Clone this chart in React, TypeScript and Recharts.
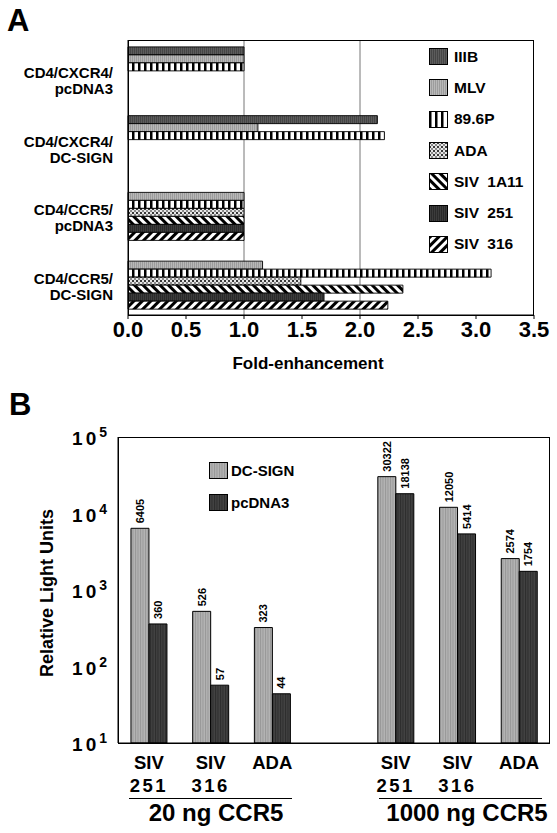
import React from "react";
import {
  BarChart,
  Bar,
  XAxis,
  YAxis,
  CartesianGrid,
  Legend,
  LabelList,
} from "recharts";

// ---- panel A data ----
const cellLines = [
  "CD4/CXCR4/\npcDNA3",
  "CD4/CXCR4/\nDC-SIGN",
  "CD4/CCR5/\npcDNA3",
  "CD4/CCR5/\nDC-SIGN",
];
const iiib = [1.0, 2.15, null, null];
const mlv = [1.0, 1.12, 1.0, 1.16];
const hiv896p = [1.0, 2.21, 1.0, 3.13];
const ada = [null, null, 1.0, 1.49];
const siv1a11 = [null, null, 1.0, 2.37];
const siv251 = [null, null, 1.0, 1.69];
const siv316 = [null, null, 1.0, 2.24];
const foldTicks = [0, 0.5, 1, 1.5, 2, 2.5, 3, 3.5];
const foldGrid = [1, 2];

// ---- panel B data ----
const viruses = ["SIV 251", "SIV 316", "ADA", "", "SIV 251", "SIV 316", "ADA"];
const dcSign = [6405, 526, 323, null, 30322, 12050, 2574];
const pcDNA3 = [360, 57, 44, null, 18138, 5414, 1754];
const rluTicks = [10, 100, 1000, 10000, 100000];
const doseLabels = ["20 ng CCR5", "1000 ng CCR5"];

const FONT = "'Liberation Sans', Arial, Helvetica, sans-serif";
const W = 557;

// chart geometry
const A_TOP = 0;
const A_H = 375;
const A_MARGIN = { top: 40, right: 23, bottom: 0, left: 0 };
const A_YW = 128;
const A_XH = 60;
const B_TOP = 380;
const B_H = 453;
const B_MARGIN = { top: 57, right: 7, bottom: 0, left: 0 };
const B_YW = 118;
const B_XH = 90;

const seriesA = [
  { key: "iiib", name: "IIIB", fill: "url(#pIIIB)" },
  { key: "mlv", name: "MLV", fill: "url(#pMLV)" },
  { key: "p896", name: "89.6P", fill: "url(#p896)" },
  { key: "ada", name: "ADA", fill: "url(#pADA)" },
  { key: "s1a11", name: "SIV 1A11", fill: "url(#p1A11)" },
  { key: "s251", name: "SIV 251", fill: "url(#p251)" },
  { key: "s316", name: "SIV 316", fill: "url(#p316)" },
];

const dataA = cellLines.map((name, i) => ({
  name,
  iiib: iiib[i],
  mlv: mlv[i],
  p896: hiv896p[i],
  ada: ada[i],
  s1a11: siv1a11[i],
  s251: siv251[i],
  s316: siv316[i],
}));

const seriesB = [
  { key: "dc", name: "DC-SIGN", fill: "url(#pDC)" },
  { key: "pc", name: "pcDNA3", fill: "url(#pPC)" },
];

const dataB = viruses.map((v, i) => ({ v, dc: dcSign[i], pc: pcDNA3[i] }));

function Patterns() {
  return (
    <defs>
      <pattern id="pIIIB" width="2" height="10" patternUnits="userSpaceOnUse">
        <rect width="2" height="10" fill="#5c5c5c" />
        <rect width="1" height="10" fill="#454545" />
      </pattern>
      <pattern id="pMLV" width="2" height="10" patternUnits="userSpaceOnUse">
        <rect width="2" height="10" fill="#b8b8b8" />
        <rect width="1" height="10" fill="#9c9c9c" />
      </pattern>
      <pattern id="p896" width="6" height="10" patternUnits="userSpaceOnUse">
        <rect width="6" height="10" fill="#fff" />
        <rect width="2.5" height="10" fill="#000" />
      </pattern>
      <pattern id="pADA" width="4" height="4" patternUnits="userSpaceOnUse">
        <rect width="4" height="4" fill="#e6e6e6" />
        <rect width="2" height="2" fill="#3a3a3a" />
        <rect x="2" y="2" width="2" height="2" fill="#8a8a8a" />
      </pattern>
      <pattern id="p1A11" width="6" height="6" patternUnits="userSpaceOnUse" patternTransform="rotate(-45)">
        <rect width="6" height="6" fill="#fff" />
        <rect width="3" height="6" fill="#000" />
      </pattern>
      <pattern id="p251" width="2" height="10" patternUnits="userSpaceOnUse">
        <rect width="2" height="10" fill="#3c3c3c" />
        <rect width="1" height="10" fill="#2a2a2a" />
      </pattern>
      <pattern id="p316" width="6" height="6" patternUnits="userSpaceOnUse" patternTransform="rotate(45)">
        <rect width="6" height="6" fill="#fff" />
        <rect width="3" height="6" fill="#000" />
      </pattern>
      <pattern id="pDC" width="2.5" height="10" patternUnits="userSpaceOnUse">
        <rect width="2.5" height="10" fill="#b4b4b4" />
        <rect width="1" height="10" fill="#979797" />
      </pattern>
      <pattern id="pPC" width="2.5" height="10" patternUnits="userSpaceOnUse">
        <rect width="2.5" height="10" fill="#424242" />
        <rect width="1" height="10" fill="#2c2c2c" />
      </pattern>
    </defs>
  );
}

// box round a plot area, laid over the chart from its own margins and axis sizes
function Frame({ top, margin, yw, xh, h }: any) {
  return (
    <div
      style={{
        position: "absolute",
        pointerEvents: "none",
        boxSizing: "border-box",
        border: "1px solid #000",
        left: margin.left + yw,
        top: top + margin.top,
        width: W - margin.left - margin.right - yw,
        height: h - margin.top - margin.bottom - xh + 1,
      }}
    />
  );
}

function Swatch({ fill }: { fill: string }) {
  return (
    <svg width={19} height={17} style={{ display: "block" }}>
      <rect x={0.5} y={0.5} width={18} height={16} fill={fill} stroke="#000" />
    </svg>
  );
}

const legendA = () => (
  <div style={{ background: "#fff", fontFamily: FONT }}>
    {seriesA.map((s) => (
      <div key={s.key} style={{ height: 31.3, display: "flex", alignItems: "center" }}>
        <Swatch fill={s.fill} />
        <span style={{ marginLeft: 6, fontSize: 15.5, fontWeight: "bold", wordSpacing: 4 }}>{s.name}</span>
      </div>
    ))}
  </div>
);

const legendB = () => (
  <div style={{ fontFamily: FONT }}>
    {seriesB.map((s) => (
      <div key={s.key} style={{ height: 32, display: "flex", alignItems: "center" }}>
        <Swatch fill={s.fill} />
        <span style={{ marginLeft: 3, fontSize: 15, fontWeight: "bold" }}>{s.name}</span>
      </div>
    ))}
  </div>
);

const CellTick = (p: any) => {
  const lines = String(p.payload.value).split("\n");
  return (
    <text x={p.x - 15} y={p.y} textAnchor="end" fontFamily={FONT} fontSize={15} fontWeight="bold" fill="#000">
      <tspan x={p.x - 15} y={p.y - 2} dominantBaseline="central">{lines[0]}</tspan>
      <tspan x={p.x - 15} y={p.y + 14} dominantBaseline="central">{lines[1]}</tspan>
    </text>
  );
};

const PowerTick = (p: any) => {
  const exp = Math.round(Math.log10(p.payload.value));
  return (
    <text x={p.x - 11} y={p.y + 8} textAnchor="end" fontFamily={FONT} fill="#000" fontWeight="bold">
      <tspan fontSize={19} letterSpacing={3}>10</tspan>
      <tspan fontSize={14} dy={-8}>{exp}</tspan>
    </text>
  );
};

const VirusTick = (p: any) => {
  const [a, b] = String(p.payload.value).split(" ");
  if (!a) return null;
  return (
    <g fontFamily={FONT} fontWeight="bold" fill="#000" fontSize={18.5}>
      <text x={p.x} y={p.y + 19} textAnchor="middle" dominantBaseline="central">{a}</text>
      {b && (
        <text x={p.x} y={p.y + 42} textAnchor="middle" dominantBaseline="central" letterSpacing={2.5}>{b}</text>
      )}
    </g>
  );
};

const BarValue = (p: any) => {
  if (p.value == null) return null;
  const cx = p.x + p.width / 2;
  const ty = p.y - 5;
  return (
    <text
      x={cx}
      y={ty}
      transform={`rotate(-90 ${cx} ${ty})`}
      textAnchor="start"
      dominantBaseline="central"
      fontFamily={FONT}
      fontSize={11}
      fontWeight="bold"
      fill="#000"
    >
      {p.value}
    </text>
  );
};

export default function App() {
  return (
    <div style={{ position: "absolute", left: 0, top: 0, width: W, height: 833, background: "#fff", fontFamily: FONT }}>
      <div style={{ position: "absolute", left: 7, top: 5, fontSize: 31, fontWeight: "bold", lineHeight: 1 }}>A</div>
      <div style={{ position: "absolute", left: 9, top: 389, fontSize: 31, fontWeight: "bold", lineHeight: 1 }}>B</div>

      <div style={{ position: "absolute", left: 0, top: A_TOP }}>
        <BarChart
          width={W}
          height={A_H}
          data={dataA}
          layout="vertical"
          margin={A_MARGIN}
          barCategoryGap="10%"
          barGap={0}
        >
          <Patterns />
          <CartesianGrid
            horizontal={false}
            stroke="#777"
            verticalCoordinatesGenerator={({ xAxis, offset }: any) =>
              foldGrid.map((v) =>
                xAxis && typeof xAxis.scale === "function"
                  ? xAxis.scale(v)
                  : offset.left + (offset.width * v) / 3.5
              )
            }
          />
          <XAxis
            type="number"
            domain={[0, 3.5]}
            ticks={foldTicks}
            tickFormatter={(v: number) => v.toFixed(1)}
            interval={0}
            height={A_XH}
            tickSize={4}
            tickMargin={2}
            stroke="#000"
            tick={{ fontSize: 22, fontWeight: "bold", fill: "#000", fontFamily: FONT }}
            label={(lp: any) => {
              const vb = lp.viewBox || {};
              return (
                <text
                  x={vb.x + vb.width / 2 - 23}
                  y={vb.y + 48}
                  textAnchor="middle"
                  dominantBaseline="central"
                  fontFamily={FONT}
                  fontSize={17}
                  fontWeight="bold"
                  fill="#000"
                >
                  Fold-enhancement
                </text>
              );
            }}
          />
          <YAxis
            type="category"
            dataKey="name"
            width={A_YW}
            tickSize={0}
            tickMargin={0}
            tickLine={false}
            stroke="#000"
            tick={<CellTick />}
          />
          {seriesA.map((s) => (
            <Bar
              key={s.key}
              dataKey={s.key}
              name={s.name}
              fill={s.fill}
              stroke="#000"
              strokeWidth={0.9}
              isAnimationActive={false}
            />
          ))}
          <Legend
            layout="vertical"
            align="center"
            verticalAlign="middle"
            content={legendA}
            wrapperStyle={{ top: 41, left: 429, width: 104, height: 218 }}
          />
        </BarChart>
      </div>
      <Frame top={A_TOP} margin={A_MARGIN} yw={A_YW} xh={A_XH} h={A_H} />

      <div style={{ position: "absolute", left: 0, top: B_TOP }}>
        <BarChart
          width={W}
          height={B_H}
          data={dataB}
          margin={B_MARGIN}
          barCategoryGap="21%"
          barGap={0}
        >
          <Patterns />
          <XAxis
            dataKey="v"
            height={B_XH}
            tickSize={0}
            tickMargin={0}
            tickLine={false}
            interval={0}
            stroke="#000"
            tick={<VirusTick />}
          />
          <YAxis
            scale="log"
            domain={[10, 100000]}
            ticks={rluTicks}
            allowDataOverflow
            width={B_YW}
            tickSize={0}
            tickMargin={0}
            tickLine={false}
            stroke="#000"
            tick={<PowerTick />}
            label={(lp: any) => {
              const vb = lp.viewBox || {};
              const cx = 47;
              const cy = vb.y + vb.height / 2 + 3;
              return (
                <text
                  x={cx}
                  y={cy}
                  transform={`rotate(-90 ${cx} ${cy})`}
                  textAnchor="middle"
                  dominantBaseline="central"
                  fontFamily={FONT}
                  fontSize={18}
                  fontWeight="bold"
                  fill="#000"
                >
                  Relative Light Units
                </text>
              );
            }}
          />
          {seriesB.map((s) => (
            <Bar key={s.key} dataKey={s.key} name={s.name} fill={s.fill} stroke="#000" strokeWidth={1} isAnimationActive={false}>
              <LabelList dataKey={s.key} content={<BarValue />} />
            </Bar>
          ))}
          <Legend
            layout="vertical"
            align="center"
            verticalAlign="middle"
            content={legendB}
            wrapperStyle={{ top: 74, left: 209, width: 110, height: 64 }}
          />
        </BarChart>
      </div>
      <Frame top={B_TOP} margin={B_MARGIN} yw={B_YW} xh={B_XH} h={B_H} />

      <div style={{ position: "absolute", left: 129, top: 798, width: 163, borderTop: "1.5px solid #000" }} />
      <div style={{ position: "absolute", left: 379, top: 798, width: 163, borderTop: "1.5px solid #000" }} />
      <div style={{ position: "absolute", left: 116, top: 801, width: 200, textAlign: "center", fontSize: 24, fontWeight: "bold", lineHeight: 1 }}>
        {doseLabels[0]}
      </div>
      <div style={{ position: "absolute", left: 357, top: 801, width: 220, textAlign: "center", fontSize: 24, fontWeight: "bold", lineHeight: 1 }}>
        {doseLabels[1]}
      </div>
    </div>
  );
}
